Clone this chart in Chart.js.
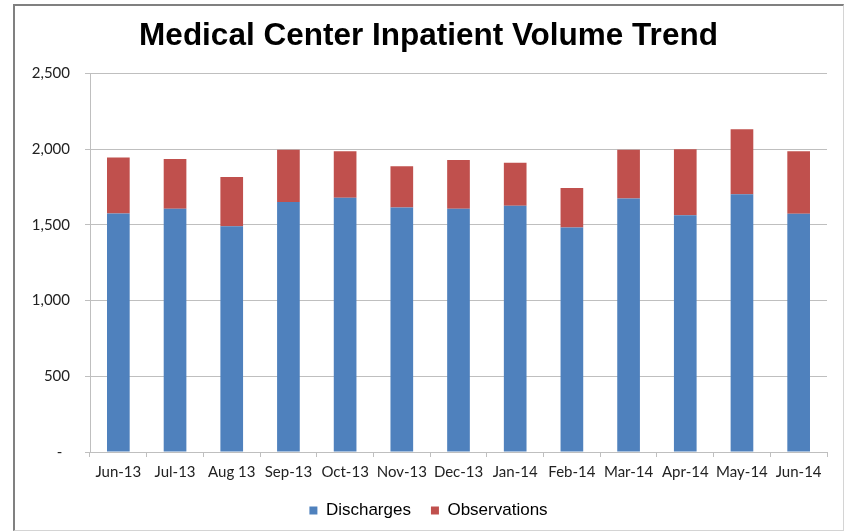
<!DOCTYPE html>
<html>
<head>
<meta charset="utf-8">
<script src="https://cdn.jsdelivr.net/npm/chart.js@4"></script>
<style>
    body { margin: 0; background: #fff; }
    .wrap { position: relative; width: 846px; height: 532px; }
    .frame {
        position: absolute; left: 13px; top: 4px; width: 828px; height: 524px;
        border-top: 2px solid #808080; border-left: 2px solid #808080;
        border-right: 1px solid #d4d4d4; border-bottom: 1px solid #d4d4d4;
    }
    canvas { position: absolute; left: 0; top: 0; }
</style>
</head>
<body>
<div class="wrap">
    <div class="frame"></div>
    <canvas id="volumeChart" width="846" height="532"></canvas>
</div>
<script>
// Inpatient volume by month
const months = ['Jun-13', 'Jul-13', 'Aug 13', 'Sep-13', 'Oct-13', 'Nov-13', 'Dec-13',
                'Jan-14', 'Feb-14', 'Mar-14', 'Apr-14', 'May-14', 'Jun-14'];
const discharges = [1574, 1605, 1491, 1651, 1678, 1614, 1605, 1625, 1482, 1673, 1563, 1702, 1572];
const observations = [370, 330, 325, 344, 308, 273, 322, 284, 260, 322, 436, 429, 414];

const axisColor = '#bfbfbf';
const labelFont = { family: 'Lato', size: 15 };

new Chart(document.getElementById('volumeChart').getContext('2d'), {
    type: 'bar',
    data: {
        labels: months,
        datasets: [
            {
                label: 'Discharges',
                data: discharges,
                backgroundColor: '#4f81bd',
                borderWidth: 0
            },
            {
                label: 'Observations',
                data: observations,
                backgroundColor: '#c0504d',
                borderWidth: 0
            }
        ]
    },
    options: {
        responsive: false,
        animation: false,
        layout: { padding: { left: 30, right: 19, top: 0, bottom: 3 } },
        datasets: { bar: { categoryPercentage: 1, barPercentage: 0.4 } },
        plugins: {
            title: {
                display: true,
                text: 'Medical Center Inpatient Volume Trend',
                color: '#000',
                font: { family: 'Liberation Sans', size: 31.5, weight: 'bold' },
                padding: { top: 17, bottom: 18.5 }
            },
            legend: {
                position: 'bottom',
                labels: {
                    boxWidth: 8,
                    boxHeight: 8,
                    padding: 20,
                    color: '#000',
                    font: { family: 'Liberation Sans', size: 17 }
                }
            },
            tooltip: { enabled: false }
        },
        scales: {
            x: {
                stacked: true,
                grid: { drawOnChartArea: false, color: axisColor, tickLength: 5 },
                border: { color: axisColor },
                ticks: { color: '#222', font: labelFont, padding: 6, maxRotation: 0, autoSkip: false },
                afterFit: (scale) => { scale.height = 30; }
            },
            y: {
                stacked: true,
                min: 0,
                max: 2500,
                grid: { color: axisColor, tickLength: 5 },
                border: { color: axisColor },
                ticks: {
                    stepSize: 500,
                    color: '#222',
                    font: labelFont,
                    padding: 15,
                    callback: (v) => v === 0 ? '-  ' : v.toLocaleString('en-US')
                },
                afterFit: (scale) => { scale.width = 60; }
            }
        }
    }
});
</script>
</body>
</html>
